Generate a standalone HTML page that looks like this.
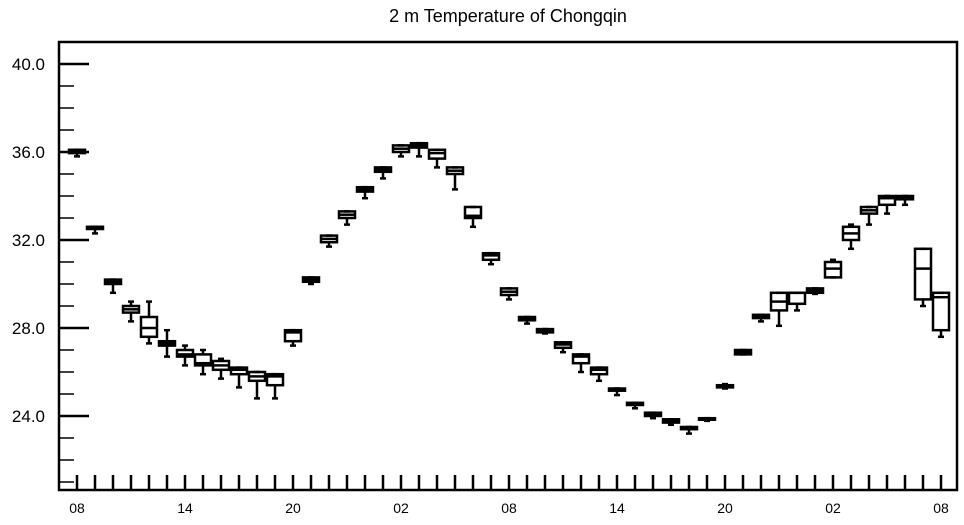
<!DOCTYPE html>
<html><head><meta charset="utf-8"><style>
html,body{margin:0;padding:0;background:#fff;}
svg text{font-family:"Liberation Sans",sans-serif;fill:#000;}
</style></head><body>
<svg id="chart" width="964" height="520" viewBox="0 0 964 520" xmlns="http://www.w3.org/2000/svg">
<text x="508" y="22" font-size="18" text-anchor="middle">2 m Temperature of Chongqin</text>
<g id="axes"></g>
<g id="boxes"></g>
</svg>
<script>
const hourLabels = ["08","","","","","","14","","","","","","20","","","","","","02","","","","","","08","","","","","","14","","","","","","20","","","","","","02","","","","","","08"];
const q1 =  [35.95,32.5,30.0,28.7,27.6,27.2,26.7,26.3,26.1,25.9,25.6,25.4,27.4,30.1,31.9,33.0,34.2,35.1,36.0,36.2,35.7,35.0,33.0,31.1,29.5,28.35,27.8,27.1,26.4,25.9,25.15,24.5,24.0,23.7,23.4,23.83,25.3,26.8,28.45,28.8,29.1,29.6,30.3,32.0,33.2,33.6,33.85,29.3,27.9];
const med = [36.0,32.55,30.1,28.85,28.0,27.3,26.8,26.4,26.3,26.1,25.8,25.8,27.8,30.2,32.05,33.15,34.3,35.2,36.15,36.3,35.95,35.15,33.1,31.3,29.65,28.45,27.9,27.25,26.7,26.1,25.2,24.55,24.07,23.78,23.45,23.87,25.35,26.9,28.52,29.2,29.6,29.7,30.7,32.3,33.35,33.9,33.95,30.7,29.4];
const q3 =  [36.1,32.6,30.2,29.0,28.5,27.4,27.0,26.8,26.5,26.2,26.0,25.9,27.9,30.3,32.2,33.3,34.4,35.3,36.3,36.4,36.1,35.3,33.5,31.4,29.8,28.5,27.95,27.35,26.8,26.2,25.25,24.6,24.15,23.85,23.5,23.9,25.4,27.0,28.6,29.6,29.6,29.8,31.0,32.6,33.5,34.0,34.0,31.6,29.6];
const lo =  [35.8,32.3,29.6,28.3,27.3,26.7,26.3,25.9,25.7,25.3,24.8,24.8,27.2,30.0,31.7,32.7,33.9,34.8,35.8,35.8,35.3,34.3,32.6,30.9,29.3,28.2,27.75,26.9,26.0,25.6,24.95,24.35,23.9,23.6,23.2,23.78,25.25,26.8,28.3,28.1,28.8,29.55,30.3,31.6,32.7,33.2,33.6,29.0,27.6];
const hi =  [36.1,32.6,30.2,29.2,29.2,27.9,27.2,27.0,26.6,26.2,26.0,25.9,27.9,30.3,32.2,33.3,34.4,35.3,36.3,36.4,36.1,35.3,33.5,31.4,29.8,28.5,27.95,27.35,26.8,26.2,25.25,24.6,24.15,23.85,23.5,23.9,25.45,27.0,28.6,29.6,29.6,29.8,31.1,32.7,33.5,34.0,34.0,31.6,29.6];
const yMajor = [24,28,32,36,40];
const yMinor = [21,22,23,25,26,27,29,30,31,33,34,35,37,38,39];

const NS="http://www.w3.org/2000/svg";
const L=59,R=957,T=42,B=490;
const y=v=>64+(40-v)*22;
const x=i=>77+i*18;
function mk(tag,attrs,parent){const e=document.createElementNS(NS,tag);for(const k in attrs)e.setAttribute(k,attrs[k]);parent.appendChild(e);return e;}
const ax=document.getElementById('axes');
const frame=mk('rect',{x:L,y:T,width:R-L,height:B-T,fill:'none',stroke:'#000','stroke-width':2.5},ax);


yMajor.forEach(v=>{
  const t=mk('line',{x1:L,x2:L+30,y1:y(v),y2:y(v),stroke:'#000','stroke-width':2.5},ax);
  
  
  const tx=mk('text',{x:45,y:y(v)+6,'font-size':17,'text-anchor':'end'},ax);
  tx.textContent=v.toFixed(1);
  
  
});
yMinor.forEach(v=>{
  const t=mk('line',{x1:L,x2:L+15,y1:y(v),y2:y(v),stroke:'#000','stroke-width':1.5},ax);
  
  
});
hourLabels.forEach((lab,i)=>{
  const t=mk('line',{x1:x(i),x2:x(i),y1:B,y2:B-15,stroke:'#000','stroke-width':2.5},ax);
  
  
  if(lab){
    const tx=mk('text',{x:x(i),y:513,'font-size':14,'text-anchor':'middle'},ax);
    tx.textContent=lab;
    
    
  }
});
const bx=document.getElementById('boxes');
const hw=8;
q1.forEach((_,i)=>{
  const g=mk('g',{},bx);
  
  
  const cx=x(i);
  const sw={stroke:'#000','stroke-width':2.5,fill:'none'};
  mk('line',Object.assign({x1:cx,x2:cx,y1:y(lo[i]),y2:y(q1[i])},sw),g);
  mk('line',Object.assign({x1:cx,x2:cx,y1:y(hi[i]),y2:y(q3[i])},sw),g);
  mk('line',Object.assign({x1:cx-3,x2:cx+3,y1:y(lo[i]),y2:y(lo[i])},sw),g);
  mk('line',Object.assign({x1:cx-3,x2:cx+3,y1:y(hi[i]),y2:y(hi[i])},sw),g);
  const top=y(q3[i]),bot=y(q1[i]);
  mk('rect',Object.assign({x:cx-hw,y:top,width:hw*2,height:Math.max(bot-top,1.5)},sw),g);
  mk('line',Object.assign({x1:cx-hw,x2:cx+hw,y1:y(med[i]),y2:y(med[i])},sw),g);
});
</script>
</body></html>
